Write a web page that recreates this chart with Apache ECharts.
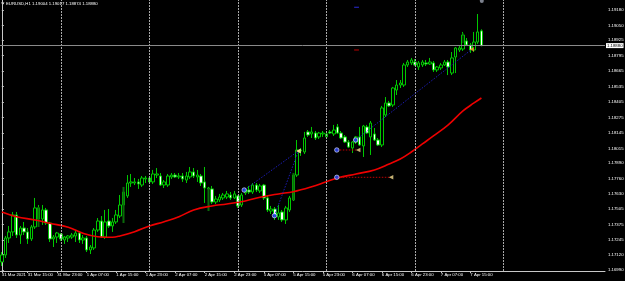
<!DOCTYPE html>
<html>
<head>
<meta charset="utf-8">
<script src="https://cdn.jsdelivr.net/npm/echarts@6/dist/echarts.min.js"></script>
<style>
html, body { margin: 0; padding: 0; background: #000; }
#main { width: 625px; height: 281px; }
</style>
</head>
<body>
<div id="main"></div>
<script>
// EURUSD H1, 31 Mar - 7 Apr 2021
const symbolName = 'EURUSD,H1';
const firstLabel = '31 Mar 2021';
// trading days: [day, first hour, last hour]
const sessions = [
  ['31 Mar', 8, 23],
  ['1 Apr', 0, 23],
  ['2 Apr', 0, 23],
  ['5 Apr', 0, 23],
  ['6 Apr', 0, 23],
  ['7 Apr', 0, 18]
];
const slotCount = 164;          // bars + empty space on the right
const labelHours = [7, 15, 23];
const priceTicks = [1.19180, 1.19050, 1.18925, 1.18795, 1.18665, 1.18535, 1.18405, 1.18275, 1.18145,
  1.18015, 1.17890, 1.17760, 1.17630, 1.17505, 1.17375, 1.17245, 1.17120, 1.16990];
const lastPrice = 1.18880;

// open, close, low, high
const candles = [
  [1.17058, 1.17117, 1.17024, 1.17142], [1.17117, 1.17260, 1.17092, 1.17277], [1.17260, 1.17311, 1.17218, 1.17361], [1.17311, 1.17454, 1.17277, 1.17479],
  [1.17454, 1.17285, 1.17260, 1.17479], [1.17285, 1.17344, 1.17210, 1.17361], [1.17344, 1.17311, 1.17285, 1.17395], [1.17311, 1.17252, 1.17210, 1.17344],
  [1.17252, 1.17353, 1.17235, 1.17370], [1.17353, 1.17513, 1.17336, 1.17597], [1.17513, 1.17420, 1.17395, 1.17538], [1.17420, 1.17496, 1.17370, 1.17538],
  [1.17496, 1.17386, 1.17370, 1.17513], [1.17386, 1.17252, 1.17226, 1.17395], [1.17252, 1.17268, 1.17184, 1.17285], [1.17268, 1.17302, 1.17218, 1.17311],
  [1.17294, 1.17252, 1.17235, 1.17302], [1.17243, 1.17268, 1.17210, 1.17277], [1.17260, 1.17277, 1.17226, 1.17285], [1.17268, 1.17285, 1.17252, 1.17302],
  [1.17277, 1.17302, 1.17226, 1.17319], [1.17302, 1.17243, 1.17218, 1.17319], [1.17243, 1.17260, 1.17210, 1.17285], [1.17260, 1.17159, 1.17142, 1.17277],
  [1.17159, 1.17184, 1.17125, 1.17201], [1.17176, 1.17327, 1.17159, 1.17344], [1.17327, 1.17403, 1.17311, 1.17428], [1.17403, 1.17268, 1.17260, 1.17445],
  [1.17268, 1.17395, 1.17252, 1.17496], [1.17403, 1.17361, 1.17344, 1.17504], [1.17361, 1.17395, 1.17311, 1.17428], [1.17395, 1.17454, 1.17378, 1.17496],
  [1.17445, 1.17538, 1.17428, 1.17622], [1.17538, 1.17647, 1.17513, 1.17664], [1.17614, 1.17723, 1.17597, 1.17790], [1.17723, 1.17732, 1.17690, 1.17799],
  [1.17723, 1.17732, 1.17706, 1.17765], [1.17732, 1.17715, 1.17673, 1.17757], [1.17706, 1.17765, 1.17690, 1.17782], [1.17757, 1.17765, 1.17723, 1.17782],
  [1.17765, 1.17732, 1.17723, 1.17782], [1.17732, 1.17799, 1.17715, 1.17833], [1.17790, 1.17799, 1.17765, 1.17849], [1.17782, 1.17706, 1.17698, 1.17807],
  [1.17706, 1.17732, 1.17681, 1.17748], [1.17706, 1.17782, 1.17690, 1.17799], [1.17774, 1.17790, 1.17757, 1.17807], [1.17790, 1.17774, 1.17765, 1.17807],
  [1.17774, 1.17782, 1.17757, 1.17807], [1.17782, 1.17757, 1.17732, 1.17807], [1.17748, 1.17782, 1.17723, 1.17816], [1.17774, 1.17816, 1.17757, 1.17858],
  [1.17816, 1.17782, 1.17765, 1.17849], [1.17774, 1.17790, 1.17732, 1.17833], [1.17782, 1.17723, 1.17698, 1.17799], [1.17732, 1.17681, 1.17555, 1.17858],
  [1.17681, 1.17673, 1.17622, 1.17690], [1.17673, 1.17563, 1.17546, 1.17698], [1.17563, 1.17588, 1.17546, 1.17614], [1.17580, 1.17605, 1.17563, 1.17631],
  [1.17597, 1.17622, 1.17580, 1.17639], [1.17605, 1.17631, 1.17588, 1.17656], [1.17622, 1.17597, 1.17580, 1.17647], [1.17597, 1.17631, 1.17588, 1.17656],
  [1.17614, 1.17530, 1.17513, 1.17622], [1.17538, 1.17622, 1.17521, 1.17639], [1.17639, 1.17664, 1.17622, 1.17681], [1.17664, 1.17647, 1.17631, 1.17698],
  [1.17647, 1.17706, 1.17631, 1.17723], [1.17706, 1.17664, 1.17647, 1.17723], [1.17656, 1.17698, 1.17639, 1.17715], [1.17706, 1.17597, 1.17580, 1.17715],
  [1.17597, 1.17496, 1.17479, 1.17614], [1.17487, 1.17504, 1.17462, 1.17530], [1.17504, 1.17454, 1.17412, 1.17521], [1.17437, 1.17471, 1.17412, 1.17538],
  [1.17479, 1.17412, 1.17395, 1.17496], [1.17412, 1.17513, 1.17378, 1.17530], [1.17496, 1.17597, 1.17479, 1.17614], [1.17580, 1.17790, 1.17572, 1.17807],
  [1.17790, 1.18001, 1.17774, 1.18085], [1.17993, 1.18001, 1.17951, 1.18018], [1.17984, 1.18102, 1.17967, 1.18153], [1.18153, 1.18127, 1.18111, 1.18169],
  [1.18136, 1.18153, 1.18102, 1.18195], [1.18144, 1.18102, 1.18085, 1.18161], [1.18111, 1.18144, 1.18094, 1.18153], [1.18136, 1.18144, 1.18111, 1.18161],
  [1.18111, 1.18136, 1.18094, 1.18153], [1.18153, 1.18144, 1.18136, 1.18169], [1.18136, 1.18169, 1.18119, 1.18212], [1.18195, 1.18144, 1.18136, 1.18220],
  [1.18144, 1.18102, 1.18094, 1.18161], [1.18111, 1.18068, 1.18060, 1.18127], [1.18068, 1.18026, 1.18018, 1.18085], [1.18018, 1.18068, 1.17976, 1.18077],
  [1.18068, 1.18111, 1.18052, 1.18119], [1.18111, 1.18043, 1.18035, 1.18195], [1.18035, 1.18203, 1.17942, 1.18212], [1.18195, 1.18144, 1.18136, 1.18212],
  [1.18111, 1.18228, 1.17959, 1.18245], [1.18136, 1.18085, 1.18077, 1.18186], [1.18085, 1.18043, 1.18035, 1.18102], [1.18043, 1.18355, 1.18026, 1.18372],
  [1.18296, 1.18397, 1.18279, 1.18447], [1.18397, 1.18372, 1.18363, 1.18414], [1.18380, 1.18523, 1.18363, 1.18532], [1.18506, 1.18548, 1.18464, 1.18590],
  [1.18548, 1.18565, 1.18523, 1.18590], [1.18548, 1.18717, 1.18532, 1.18734], [1.18717, 1.18742, 1.18700, 1.18759], [1.18734, 1.18759, 1.18717, 1.18776],
  [1.18742, 1.18717, 1.18708, 1.18767], [1.18700, 1.18734, 1.18675, 1.18750], [1.18717, 1.18742, 1.18700, 1.18759], [1.18734, 1.18725, 1.18708, 1.18759],
  [1.18725, 1.18742, 1.18717, 1.18776], [1.18734, 1.18675, 1.18658, 1.18750], [1.18675, 1.18700, 1.18658, 1.18708], [1.18692, 1.18717, 1.18675, 1.18734],
  [1.18717, 1.18742, 1.18708, 1.18759], [1.18742, 1.18700, 1.18632, 1.18759], [1.18649, 1.18776, 1.18632, 1.18826], [1.18784, 1.18860, 1.18649, 1.18868],
  [1.18843, 1.18860, 1.18826, 1.18876], [1.18851, 1.18969, 1.18835, 1.18995], [1.18919, 1.18885, 1.18876, 1.18944], [1.18885, 1.18843, 1.18818, 1.18902],
  [1.18843, 1.18910, 1.18826, 1.18995], [1.18910, 1.18995, 1.18894, 1.19146], [1.19004, 1.18880, 1.18874, 1.19017]
];

// moving average, read at key bars: [bar, value]
const maPoints = [
  [0, 1.17479], [4, 1.17439], [9, 1.17412], [13, 1.17384], [18, 1.17350], [22, 1.17300], [26, 1.17271],
  [30, 1.17266], [32, 1.17277], [36, 1.17313], [40, 1.17361], [44, 1.17397], [48, 1.17439], [52, 1.17496],
  [57, 1.17530], [61, 1.17546], [66, 1.17572], [70, 1.17603], [75, 1.17631], [79, 1.17650], [84, 1.17692],
  [88, 1.17734], [91, 1.17765], [96, 1.17799], [101, 1.17833], [105, 1.17883], [108, 1.17925], [111, 1.17984],
  [114, 1.18052], [117, 1.18119], [121, 1.18212], [125, 1.18330], [128, 1.18397], [130, 1.18439]
];

// dark green bars: [bar, top, bottom]
const shadeBars = [[10, 1.17521, 1.17353], [33, 1.17690, 1.17386], [56, 1.17681, 1.17487], [79, 1.17807, 1.17580], [125, 1.18986, 1.18902]];

// day separators (bar index)
const separators = [16, 40, 64, 88, 112, 136];

// trades: [openBar, openPrice, closeBar, closePrice]
const buyTrades = [[65.7, 1.17664, 80.4, 1.17993], [73.9, 1.17448, 80.4, 1.17993], [95.9, 1.18085, 127.4, 1.18849]];
const sellTrades = [[90.8, 1.18001, 96.6, 1.18001], [90.8, 1.17771, 105.5, 1.17771]];
const levelMarks = [[95.5, 96.8, 1.19203, '#2a2ad8'], [95.5, 96.8, 1.18843, '#c00000']];
const topMark = [130.1, 1.19256];

const categories = [];
sessions.forEach(([day, from, to]) => {
  for (let h = from; h <= to; h++) categories.push(day + ' ' + String(h).padStart(2, '0') + ':00');
});
while (categories.length < slotCount) categories.push('');

const showLabel = function (i, v) {
  if (i === 0) return true;
  if (!v) return false;
  return labelHours.indexOf(parseInt(v.split(' ')[2], 10)) >= 0;
};

const font = 'Liberation Sans';
const fs = 4.3;
const green = '#00c800';

const shadeData = candles.map(() => '-');
shadeBars.forEach(([i, top, bottom]) => { shadeData[i] = [top, bottom, bottom, top]; });

const last = candles[candles.length - 1];
const titleText = symbolName + ' ' + [last[0], last[3], last[2], last[1]].map(v => v.toFixed(5)).join(' ');

const tradeSeries = [];
buyTrades.concat(sellTrades).forEach((t, k) => {
  tradeSeries.push({
    type: 'line', xAxisIndex: 1, yAxisIndex: 0, z: 5, silent: true,
    symbol: 'none',
    data: [[t[0], t[1]], [t[2], t[3]]],
    lineStyle: { color: k < buyTrades.length ? '#1c1cb4' : '#c00000', width: 1, type: [1.5, 1.5] }
  });
});
levelMarks.forEach(m => {
  tradeSeries.push({
    type: 'line', xAxisIndex: 1, yAxisIndex: 0, z: 5, silent: true, symbol: 'none',
    data: [[m[0], m[2]], [m[1], m[2]]],
    lineStyle: { color: m[3], width: 1 }
  });
});

const openMarks = buyTrades.concat(sellTrades).map(t => [t[0], t[1]]);
const closeMarks = buyTrades.concat(sellTrades).map(t => [t[2], t[3]]);

let myChart = echarts.init(document.getElementById('main'));

let option = {
  backgroundColor: '#000',
  animation: false,
  grid: { left: 0, right: 20, top: 0, bottom: 10, containLabel: false, outerBoundsMode: 'none' },
  graphic: [
    { type: 'polygon', shape: { points: [[1, 2.5], [4.5, 2.5], [2.75, 5]] }, style: { fill: '#fff' } },
    { type: 'text', left: 6, top: 1.5, style: { text: titleText, fill: '#fff', font: fs + 'px "' + font + '"' } }
  ],
  xAxis: [
    {
      type: 'category',
      data: categories,
      boundaryGap: true,
      axisLine: { lineStyle: { color: '#c8c8c8', width: 1 } },
      axisTick: { show: true, alignWithLabel: true, interval: showLabel, length: 2, lineStyle: { color: '#c8c8c8' } },
      axisLabel: {
        interval: showLabel,
        formatter: (v, i) => (i === 0 ? firstLabel : v),
        align: 'left',
        color: '#fff',
        fontSize: fs,
        fontFamily: font,
        margin: 2,
        hideOverlap: false
      },
      splitLine: { show: false }
    },
    { type: 'value', min: -0.5, max: slotCount - 0.5, show: false }
  ],
  yAxis: {
    type: 'value',
    position: 'right',
    min: 1.16982,
    max: 1.19264,
    scale: true,
    axisLine: { show: true, lineStyle: { color: '#c8c8c8', width: 1 } },
    axisTick: { show: true, length: 2, customValues: priceTicks, lineStyle: { color: '#c8c8c8' } },
    axisLabel: {
      customValues: priceTicks,
      formatter: v => v.toFixed(5),
      color: '#fff',
      fontSize: fs,
      fontFamily: font,
      margin: 3,
      hideOverlap: false
    },
    splitLine: { show: false }
  },
  series: [
    {
      // day separators and the current price line
      type: 'line', xAxisIndex: 1, yAxisIndex: 0, z: 1, data: [], silent: true,
      markLine: {
        symbol: ['none', 'none'], silent: true, precision: 5, label: { show: false },
        lineStyle: { color: '#a8a8a8', width: 1, type: [2, 1] },
        data: separators.map(i => ({ xAxis: i })).concat([{
          yAxis: lastPrice,
          lineStyle: { color: '#8a8a8a', width: 1, type: 'solid' },
          label: {
            show: true, position: 'end', distance: 1,
            formatter: () => lastPrice.toFixed(5),
            backgroundColor: '#fff', color: '#000', fontSize: fs, fontFamily: font, padding: [1, 1, 0, 1]
          }
        }])
      }
    },
    {
      type: 'candlestick',
      name: symbolName,
      xAxisIndex: 0, yAxisIndex: 0, z: 2,
      data: candles,
      barWidth: 3,
      itemStyle: { color: '#000', color0: '#fff', borderColor: green, borderColor0: green, borderWidth: 1 }
    },
    {
      type: 'candlestick',
      xAxisIndex: 0, yAxisIndex: 0, z: 3, silent: true,
      data: shadeData,
      barWidth: 2,
      itemStyle: { color: '#0a6a0a', color0: '#0a6a0a', borderColor: '#0a6a0a', borderColor0: '#0a6a0a', borderWidth: 0 }
    },
    {
      type: 'line', xAxisIndex: 1, yAxisIndex: 0, z: 4, silent: true,
      data: maPoints,
      smooth: 0.4,
      symbol: 'none',
      lineStyle: { color: '#ee0000', width: 1.6 }
    }
  ].concat(tradeSeries).concat([
    {
      type: 'scatter', xAxisIndex: 1, yAxisIndex: 0, z: 6, silent: true,
      data: openMarks, symbol: 'circle', symbolSize: 4.5,
      itemStyle: { color: '#2848ff', borderColor: '#e8e8ff', borderWidth: 0.8 }
    },
    {
      type: 'scatter', xAxisIndex: 1, yAxisIndex: 0, z: 6, silent: true,
      data: closeMarks.map((p, k) => ({ value: p, itemStyle: { color: k === 2 ? '#ff9a2a' : '#f2dc90' } })),
      symbol: 'triangle', symbolRotate: 90, symbolSize: 4.5
    },
    {
      type: 'scatter', xAxisIndex: 1, yAxisIndex: 0, z: 6, silent: true,
      data: [topMark], symbol: 'circle', symbolSize: 4,
      itemStyle: { color: '#9aa0b0' }
    }
  ])
};

myChart.setOption(option);
</script>
</body>
</html>
